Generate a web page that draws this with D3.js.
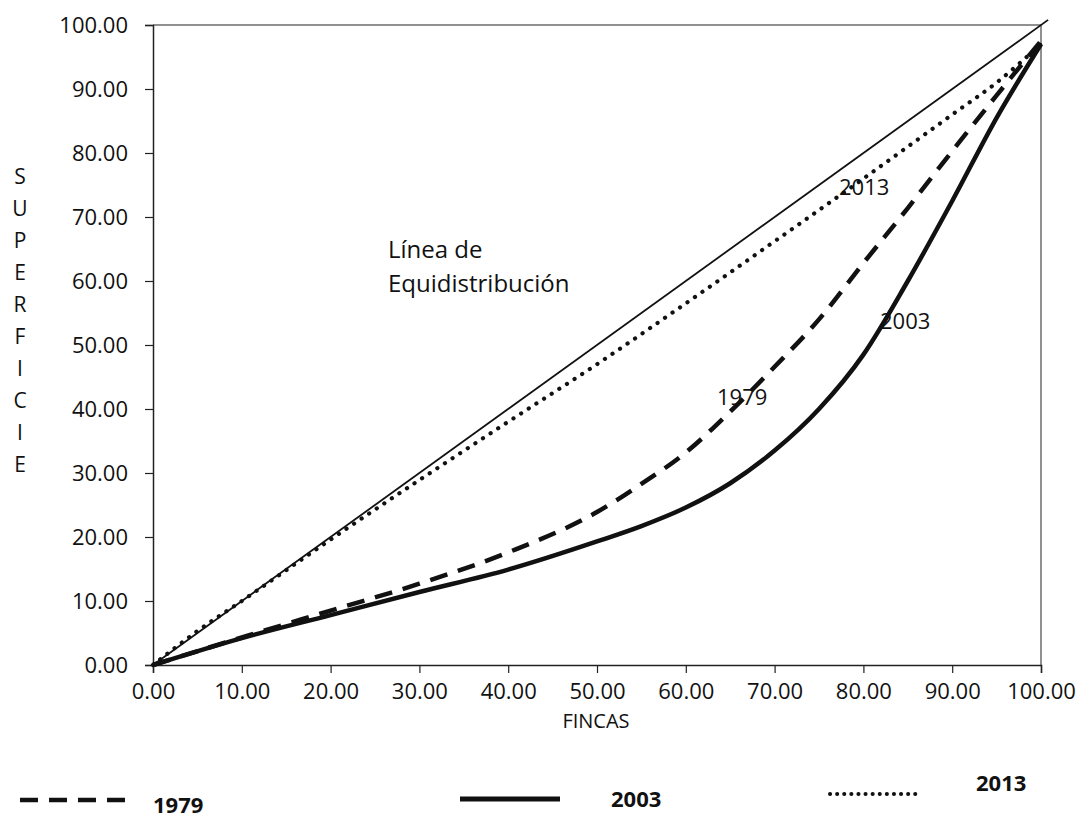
<!DOCTYPE html>
<html>
<head>
<meta charset="utf-8">
<script src="https://cdn.jsdelivr.net/npm/d3@7"></script>
<style>
  body { margin: 0; background: #fff; }
  text { font-family: "Open Sans", sans-serif; fill: #111; }
</style>
</head>
<body>
<svg width="1084" height="838"></svg>
<script>
// x = % fincas, y = % superficie (Lorenz curves)
var xs1979 = [0, 10, 20, 30, 40, 50, 55, 60, 65, 70, 75, 80, 85, 90, 95, 100];
var ys1979 = [0, 4.3, 8.5, 12.7, 17.6, 23.9, 28.3, 33.2, 39.6, 46.6, 54, 62.8, 71.4, 80.3, 89, 97.5];

var xs2003 = [0, 10, 20, 30, 40, 50, 55, 60, 65, 70, 75, 80, 85, 90, 95, 100];
var ys2003 = [0, 4.2, 7.8, 11.4, 14.9, 19.3, 21.7, 24.6, 28.4, 33.5, 40, 48.5, 60, 72.5, 85.5, 97];

var xs2013 = [0, 5, 10, 20, 30, 40, 50, 60, 70, 80, 90, 95, 100];
var ys2013 = [0, 5.3, 10, 19.6, 28.9, 38, 47, 56.5, 66.2, 76, 86, 91, 97];

var equality = [0, 100.8];
var tickValues = [0, 10, 20, 30, 40, 50, 60, 70, 80, 90, 100];
var yTitle = ["S", "U", "P", "E", "R", "F", "I", "C", "I", "E"];
var legendYears = ["1979", "2003", "2013"];

var svg = d3.select('svg');
var plotLeft = 153, plotRight = 1041, plotTop = 25, plotBottom = 665;

var x = d3.scaleLinear().domain([0, 100]).range([plotLeft, plotRight]);
var y = d3.scaleLinear().domain([0, 100]).range([plotBottom, plotTop]);

// plot frame (top and right)
svg.append("path").attr("d", "M" + plotLeft + "," + plotTop + "H" + plotRight + "V" + plotBottom)
    .attr("fill", "none").attr("stroke", "#222").attr("stroke-width", 1);

var yAxis = svg.append("g").attr("transform", "translate(" + plotLeft + ",0)")
    .call(d3.axisLeft(y).tickValues(tickValues).tickSize(8).tickPadding(17).tickFormat(d3.format(".2f")));
var xAxis = svg.append("g").attr("transform", "translate(0," + plotBottom + ")")
    .call(d3.axisBottom(x).tickValues(tickValues).tickSize(8).tickPadding(10).tickFormat(d3.format(".2f")));

[yAxis, xAxis].forEach(function (a) {
    a.select(".domain").attr("stroke", "#222").attr("stroke-width", 1.5);
    a.selectAll(".tick line").attr("stroke", "#222").attr("stroke-width", 1.2);
    a.selectAll("text").style("font-size", "22px").attr("fill", "#111");
});

var line = d3.line().x(function (d) { return x(d[0]); }).y(function (d) { return y(d[1]); })
    .curve(d3.curveMonotoneX);

function pairs(xs, ys) { return xs.map(function (v, i) { return [v, ys[i]]; }); }

// equality line
svg.append("path").datum(pairs(equality, equality)).attr("d", line)
    .attr("fill", "none").attr("stroke", "#111").attr("stroke-width", 1.8);

svg.append("path").datum(pairs(xs2013, ys2013)).attr("d", line)
    .attr("fill", "none").attr("stroke", "#111").attr("stroke-width", 4.2)
    .attr("stroke-linecap", "round").attr("stroke-dasharray", "0.1,9");

svg.append("path").datum(pairs(xs1979, ys1979)).attr("d", line)
    .attr("fill", "none").attr("stroke", "#111").attr("stroke-width", 4.5)
    .attr("stroke-dasharray", "18,11");

svg.append("path").datum(pairs(xs2003, ys2003)).attr("d", line)
    .attr("fill", "none").attr("stroke", "#111").attr("stroke-width", 4.5);

// in-chart labels
function label(txt, px, py, size) {
    svg.append("text").attr("x", px).attr("y", py).style("font-size", size + "px").text(txt);
}
label("Línea de", 388, 258, 24);
label("Equidistribución", 388, 292, 24);
label("2013", 839, 195, 22);
label("2003", 880, 329, 22);
label("1979", 717, 405, 22);

// axis titles
svg.append("g").selectAll("text").data(yTitle).enter().append("text")
    .attr("x", 20).attr("y", function (d, i) { return 184 + i * 32; })
    .attr("text-anchor", "middle").style("font-size", "21px").text(function (d) { return d; });

svg.append("text").attr("x", 596).attr("y", 728).attr("text-anchor", "middle")
    .style("font-size", "20px").text("FINCAS");

// legend
var legend = [
    { x1: 20, x2: 125, ly: 800, tx: 153, ty: 813, dash: "18,11", w: 4.5, cap: "butt" },
    { x1: 460, x2: 560, ly: 799, tx: 611, ty: 807, dash: null, w: 5, cap: "butt" },
    { x1: 830, x2: 920, ly: 794, tx: 976, ty: 791, dash: "0.1,7", w: 4, cap: "round" }
];
legend.forEach(function (l, i) {
    svg.append("line").attr("x1", l.x1).attr("x2", l.x2).attr("y1", l.ly).attr("y2", l.ly)
        .attr("stroke", "#111").attr("stroke-width", l.w).attr("stroke-linecap", l.cap)
        .attr("stroke-dasharray", l.dash);
    svg.append("text").attr("x", l.tx).attr("y", l.ty).style("font-size", "22px")
        .style("font-weight", "bold").text(legendYears[i]);
});
</script>
</body>
</html>
